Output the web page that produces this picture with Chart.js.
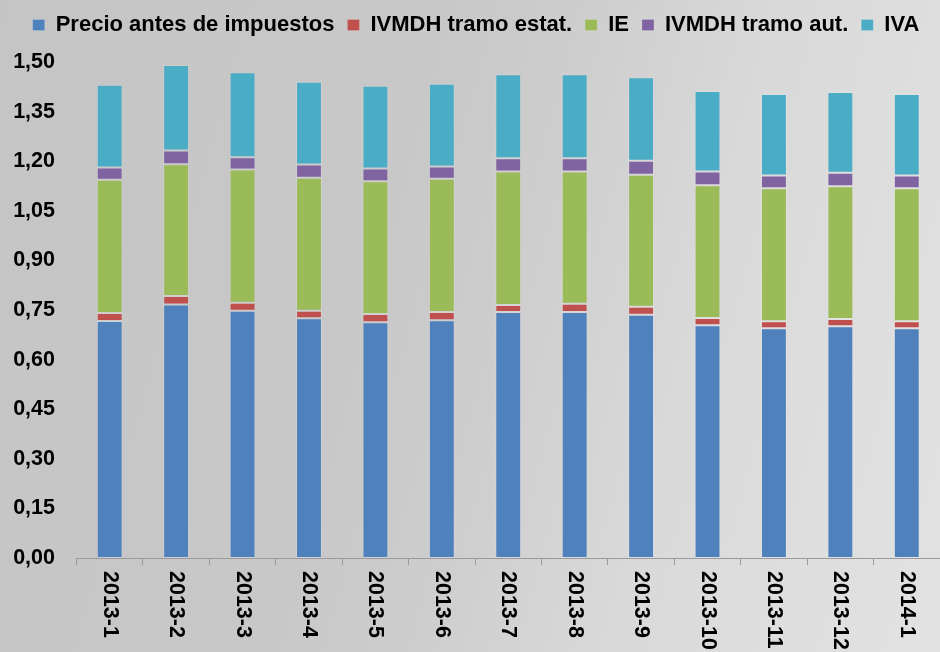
<!DOCTYPE html>
<html>
<head>
<meta charset="utf-8">
<script src="https://cdn.jsdelivr.net/npm/chart.js@4/dist/chart.umd.min.js"></script>
<style>
    html, body {
        margin: 0;
        padding: 0;
    }
    body {
        width: 940px;
        height: 652px;
        background: linear-gradient(105deg, #c5c5c5 0%, #c8c8c8 40%, #cdcdcd 52%, #d9d9d9 70%, #dedede 85%, #e2e2e2 100%);
    }
    #wrap {
        width: 940px;
        height: 652px;
    }
</style>
</head>
<body>
<div id="wrap"><canvas id="precioChart"></canvas></div>
<script>
const meses = ['2013-1', '2013-2', '2013-3', '2013-4', '2013-5', '2013-6', '2013-7',
    '2013-8', '2013-9', '2013-10', '2013-11', '2013-12', '2014-1'];

const precioAntes = [0.717, 0.767, 0.748, 0.725, 0.713, 0.719, 0.744, 0.744, 0.736, 0.704, 0.695, 0.701, 0.695];
const ivmdhEstatal = [0.024, 0.025, 0.024, 0.023, 0.025, 0.025, 0.021, 0.025, 0.024, 0.022, 0.021, 0.022, 0.021];
const impEspecial = [0.403, 0.399, 0.403, 0.402, 0.401, 0.403, 0.404, 0.400, 0.399, 0.401, 0.402, 0.401, 0.402];
const ivmdhAuton = [0.037, 0.041, 0.037, 0.040, 0.039, 0.037, 0.040, 0.040, 0.042, 0.042, 0.039, 0.041, 0.039];
const iva = [0.250, 0.259, 0.257, 0.250, 0.250, 0.250, 0.254, 0.254, 0.253, 0.243, 0.246, 0.244, 0.246];

const yTicks = [0, 0.15, 0.30, 0.45, 0.60, 0.75, 0.90, 1.05, 1.20, 1.35, 1.50];

const fuente = 'Liberation Sans, Arial, sans-serif';

function serie(label, data, color) {
    return {
        label: label,
        data: data,
        backgroundColor: color,
        borderColor: 'rgba(255, 255, 255, 0.15)',
        borderWidth: 1,
        borderSkipped: false,
        categoryPercentage: 1.0,
        barPercentage: 0.39
    };
}

// deja mas espacio bajo la leyenda
const espacioLeyenda = {
    id: 'espacioLeyenda',
    beforeInit(chart) {
        const fitOriginal = chart.legend.fit;
        chart.legend.fit = function () {
            fitOriginal.bind(chart.legend)();
            this.height += 16;
        };
    }
};

// etiquetas del eje x giradas 90 grados (se leen de arriba abajo)
const etiquetasGiradas = {
    id: 'etiquetasGiradas',
    afterDraw(chart) {
        const ctx = chart.ctx;
        const xScale = chart.scales.x;
        ctx.save();
        ctx.font = 'bold 21.5px ' + fuente;
        ctx.fillStyle = '#000';
        ctx.textAlign = 'left';
        ctx.textBaseline = 'middle';
        meses.forEach((m, i) => {
            const x = xScale.getPixelForValue(i);
            ctx.save();
            ctx.translate(x, chart.chartArea.bottom + 13);
            ctx.rotate(Math.PI / 2);
            ctx.fillText(m, 0, 0);
            ctx.restore();
        });
        ctx.restore();
    }
};

new Chart(document.getElementById('precioChart'), {
    type: 'bar',
    data: {
        labels: meses,
        datasets: [
            serie('Precio antes de impuestos', precioAntes, '#4f81bd'),
            serie('IVMDH tramo estat.', ivmdhEstatal, '#c0504d'),
            serie('IE', impEspecial, '#9bbb59'),
            serie('IVMDH tramo aut.', ivmdhAuton, '#8064a2'),
            serie('IVA', iva, '#4bacc6')
        ]
    },
    plugins: [espacioLeyenda, etiquetasGiradas],
    options: {
        responsive: true,
        maintainAspectRatio: false,
        animation: false,
        layout: {
            padding: { left: 12, right: 0, top: 1, bottom: 87 }
        },
        plugins: {
            tooltip: { enabled: false },
            legend: {
                position: 'top',
                labels: {
                    boxWidth: 12,
                    boxHeight: 11,
                    padding: 13,
                    color: '#000',
                    font: { family: fuente, size: 22, weight: 'bold' }
                }
            }
        },
        scales: {
            x: {
                stacked: true,
                grid: {
                    display: true,
                    drawOnChartArea: false,
                    drawTicks: true,
                    tickLength: 7,
                    color: '#9a9a9a',
                    offset: true
                },
                border: { display: true, color: '#9a9a9a', width: 1 },
                ticks: { display: false }
            },
            y: {
                stacked: true,
                min: 0,
                max: 1.5,
                afterBuildTicks(axis) {
                    axis.ticks = yTicks.map(v => ({ value: v }));
                },
                afterFit(axis) {
                    axis.width = 64.5;
                },
                grid: { display: false, drawTicks: false },
                border: { display: false },
                ticks: {
                    padding: 21.5,
                    color: '#000',
                    font: { family: fuente, size: 21.5, weight: 'bold' },
                    callback: value => value.toFixed(2).replace('.', ',')
                }
            }
        }
    }
});
</script>
</body>
</html>
